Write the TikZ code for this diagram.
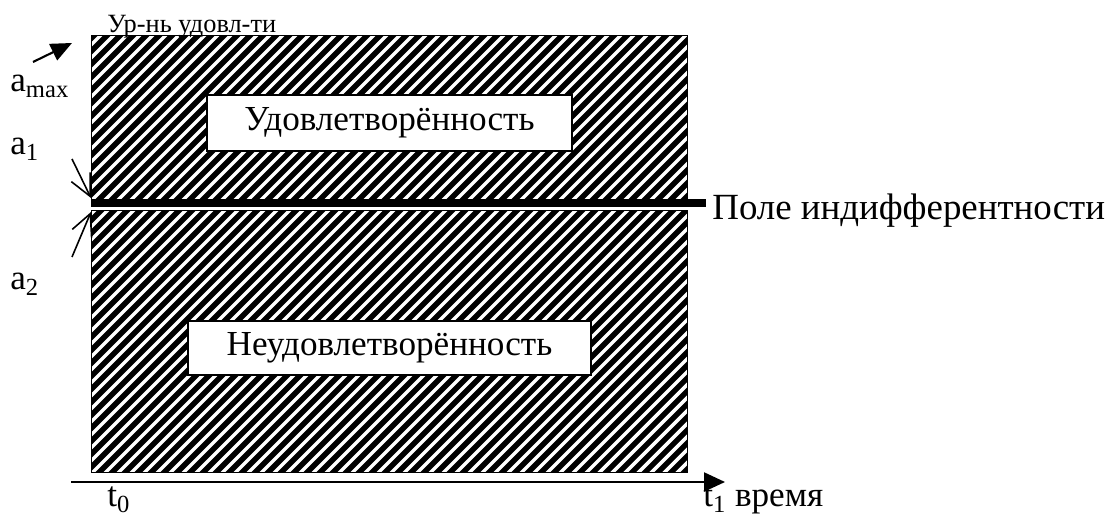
\documentclass[tikz,border=0pt]{standalone}
\usepackage{fontspec}
\setmainfont{Liberation Serif}
\usepackage{tikz}
\usetikzlibrary{arrows.meta, positioning, calc}

\begin{document}
\begin{tikzpicture}[
        % Define styles for the striped fields and the labels
        hatched/.style={draw=black, fill=black, path picture={
            \foreach \k in {0,...,110}
                \draw[white, line width=0.07cm] (\k*0.26-12, -1) -- ++(13, 13);
        }},
        label_box/.style={draw, fill=white, line width=0.6pt, align=center,
            font=\fontsize{20}{24}\selectfont},
        big/.style={font=\fontsize{20}{24}\selectfont, inner sep=0pt},
        small/.style={font=\fontsize{15}{18}\selectfont, inner sep=0pt}
    ]
        \useasboundingbox (0, 0) rectangle (22.16, 10.34);

        % --- Draw the two striped fields and the border between them ---
        \path[hatched] (1.82, 6.36) rectangle (13.74, 9.64);
        \path[hatched] (1.82, 0.90) rectangle (13.74, 6.14);
        \coordinate (bar_start) at (1.82, 6.28);
        \coordinate (bar_end)   at (14.12, 6.28);
        \draw[line width=0.16cm] (bar_start) -- (bar_end);

        % --- Boxes inside the fields ---
        \node (sat)   [label_box, minimum width=7.3cm, minimum height=1.12cm] at (7.79, 7.88) {Удовлетворённость};
        \node (unsat) [label_box, minimum width=8.06cm, minimum height=1.08cm] at (7.79, 3.38) {Неудовлетворённость};

        % --- Texts at fixed positions ---
        \node (level) [small, anchor=base west] at (2.14, 9.68) {Ур-нь удовл-ти};
        \node (field) [big, font=\fontsize{21}{25}\selectfont, anchor=base west] at (14.24, 5.94) {Поле индифферентности};
        \node (a_max) [big, anchor=base west] at (0.20, 8.50) {a\textsubscript{max}};
        \node (a_one) [big, anchor=base west] at (0.20, 7.24) {a\textsubscript{1}};
        \node (a_two) [big, anchor=base west] at (0.20, 4.54) {a\textsubscript{2}};
        \node (t_zero) [big, anchor=base west] at (2.14, 0.20) {t\textsubscript{0}};
        \node (t_one) [big, anchor=base west] at (14.06, 0.20) {t\textsubscript{1} время};

        % --- Arrows ---
        \coordinate (top_from) at (0.66, 9.10);
        \coordinate (top_to)   at (1.44, 9.48);
        \draw[line width=1.2pt, -{Triangle[length=0.42cm, width=0.36cm]}] (top_from) -- (top_to);

        \coordinate (a1_from) at (1.44, 7.16);
        \coordinate (a1_to)   at (1.82, 6.38);
        \draw[line width=0.9pt, -{Straight Barb[length=0.43cm, width=0.42cm]}] (a1_from) -- (a1_to);

        \coordinate (a2_from) at (1.44, 5.20);
        \coordinate (a2_to)   at (1.82, 6.10);
        \draw[line width=0.9pt, -{Straight Barb[length=0.43cm, width=0.42cm]}] (a2_from) -- (a2_to);

        \coordinate (axis_from) at (1.42, 0.70);
        \coordinate (axis_to)   at (14.50, 0.70);
        \draw[line width=1.2pt, -{Triangle[length=0.42cm, width=0.38cm]}] (axis_from) -- (axis_to);

    \end{tikzpicture}
\end{document}
